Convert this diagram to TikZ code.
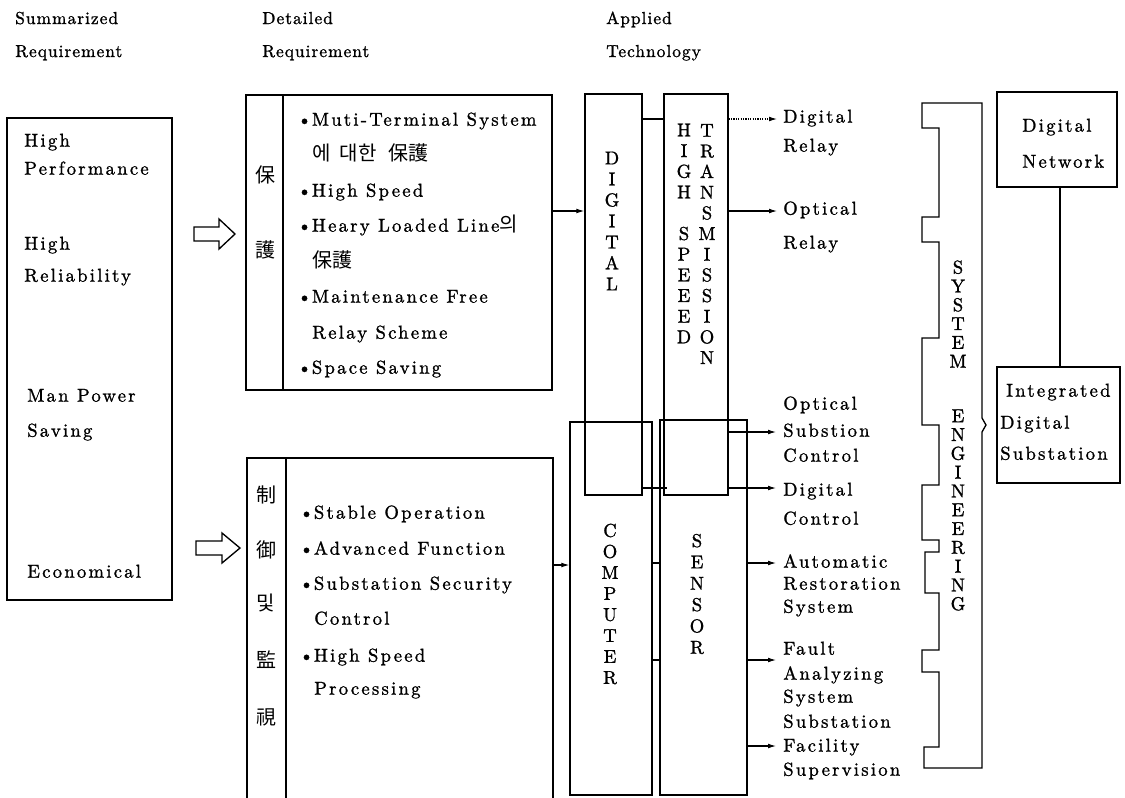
\documentclass[tikz,border=0pt]{standalone}
\usepackage{fontspec}
\setmainfont{lmroman10-regular.otf}[FakeBold=1.2]
\newfontfamily\spaced{lmroman10-regular.otf}[LetterSpace=12,FakeBold=1.2]
\newfontfamily\hdrfont{lmroman10-regular.otf}[LetterSpace=6,FakeBold=1.2]
\newfontfamily\krfont{Noto Sans CJK KR}
\usetikzlibrary{arrows.meta,fit,calc}
\tikzset{
  lw/.style={line width=1pt},
  box/.style={draw, line width=1pt, inner sep=0pt, fit={#1}},
  arr/.style={line width=0.8pt, -{Latex[length=6pt,width=3.6pt]}},
  link/.style={line width=0.8pt},
  txt/.style={anchor=west, inner sep=0pt, text height=10pt, text depth=3pt, font=\spaced\fontsize{14}{16}\selectfont},
  hdr/.style={anchor=west, inner sep=0pt, text height=9pt, text depth=3pt, font=\hdrfont\fontsize{13}{15}\selectfont},
  vtxt/.style={inner sep=0pt, align=center, font=\fontsize{14}{#1}\selectfont},
  kr/.style={inner sep=0pt, font=\krfont\fontsize{15}{17}\selectfont},
}
\newcommand\Lbl[4]{\node[txt] (#1) at (#2,#3) {#4};}
\newcommand\Hdr[4]{\node[hdr] (#1) at (#2,#3) {#4};}
\newcommand\bul{\makebox[11pt][l]{\textbullet}}
\newcommand\kw[1]{{\krfont\fontsize{15}{17}\selectfont #1}}
\begin{document}
\begin{tikzpicture}[x=0.75pt,y=-0.75pt]
\useasboundingbox (0,0) rectangle (1125,797);
\fill[white] (0,0) rectangle (1125,797);

% headers
\Hdr{h1a}{15}{20}{Summarized}
\Hdr{h1b}{15}{53}{Requirement}
\Hdr{h2a}{262}{20}{Detailed}
\Hdr{h2b}{262}{53}{Requirement}
\Hdr{h3a}{606}{20}{Applied}
\Hdr{h3b}{606}{53}{Technology}

% summarized requirement box
\node[box={(7,118)(172,600)}] (sumbox) {};
\Lbl{s1}{24}{142}{High}
\Lbl{s2}{24}{170}{Performance}
\Lbl{s3}{24}{245}{High}
\Lbl{s4}{24}{277}{Reliability}
\Lbl{s5}{27}{397}{Man Power}
\Lbl{s6}{27}{432}{Saving}
\Lbl{s7}{27}{573}{Economical}

% hollow arrows
\draw[lw] (194,227) -- (219,227) -- (219,219) -- (235,234) -- (219,249) -- (219,241) -- (194,241) -- cycle;
\draw[lw] (196,541) -- (222,541) -- (222,533) -- (240,548) -- (222,563) -- (222,555) -- (196,555) -- cycle;

% protection box
\node[box={(246,95)(552,390)}] (protbox) {};
\draw[lw] (283,95) -- (283,390);
\node[kr] (pv1) at (265,175) {保};
\node[kr] (pv2) at (265,250) {護};
\Lbl{p1}{297}{121}{\bul Muti-Terminal System}
\Lbl{p2}{312}{156}{\kw{에\hspace{7pt}대한\hspace{9pt}保護}}
\Lbl{p3}{297}{192}{\bul High Speed}
\Lbl{p4}{297}{227}{\bul Heary Loaded Line\kw{의}}
\Lbl{p5}{312}{263}{\kw{保護}}
\Lbl{p6}{297}{298}{\bul Maintenance Free}
\Lbl{p7}{312}{334}{Relay Scheme}
\Lbl{p8}{297}{369}{\bul Space Saving}

% control box
\node[box={(247,458)(553,802)}] (ctrlbox) {};
\draw[lw] (286,458) -- (286,802);
\node[kr] (cv1) at (266,495) {制};
\node[kr] (cv2) at (266,550) {御};
\node[kr] (cv3) at (266,603) {및};
\node[kr] (cv4) at (266,660) {監};
\node[kr] (cv5) at (266,717) {視};
\Lbl{c1}{299}{514}{\bul Stable Operation}
\Lbl{c2}{299}{550}{\bul Advanced Function}
\Lbl{c3}{299}{585}{\bul Substation Security}
\Lbl{c4}{314}{620}{Control}
\Lbl{c5}{299}{657}{\bul High Speed}
\Lbl{c6}{314}{690}{Processing}

% applied technology
\node[box={(585,94)(642,495)}] (digital) {};
\node[box={(664,94)(728,495)}] (hst) {};
\node[box={(570,422)(652,795)}] (computer) {};
\node[box={(660,420)(747,795)}] (sensor) {};
\node[vtxt=15.75pt] (tdig) at (612,221) {D\\I\\G\\I\\T\\A\\L};
\node[vtxt=15.5pt] (thigh) at (684,161) {H\\I\\G\\H};
\node[vtxt=15.5pt] (tspeed) at (684,285) {S\\P\\E\\E\\E\\D};
\node[vtxt=15.5pt] (ttrans) at (707,244) {T\\R\\A\\N\\S\\M\\I\\S\\S\\I\\O\\N};
\node[vtxt=15.75pt] (tcomp) at (610,604) {C\\O\\M\\P\\U\\T\\E\\R};
\node[vtxt=16pt] (tsens) at (697,594) {S\\E\\N\\S\\O\\R};

% level coordinates
\coordinate (y119) at (0,119);
\coordinate (y211) at (0,211);
\coordinate (y488) at (0,488);
\coordinate (y565) at (0,565);
\coordinate (y563) at (0,563);
\coordinate (y660) at (0,660);

\draw[arr] (protbox.east |- y211) -- (digital.west |- y211);
\draw[arr] (ctrlbox.east |- y565) -- (computer.west |- y565);
\draw[link] (digital.east |- y119) -- (hst.west |- y119);
\draw[link] (digital.east |- y488) -- ([xshift=3pt]hst.west |- y488);
\draw[link] (computer.east |- y563) -- (sensor.west |- y563);
\draw[link] (computer.east |- y660) -- (sensor.west |- y660);

% outputs
\Lbl{o1a}{783}{118}{Digital}
\Lbl{o1b}{783}{147}{Relay}
\Lbl{o2a}{783}{210}{Optical}
\Lbl{o2b}{783}{244}{Relay}
\Lbl{o3a}{783}{405}{Optical}
\Lbl{o3b}{783}{432}{Substion}
\Lbl{o3c}{783}{457}{Control}
\Lbl{o4a}{783}{491}{Digital}
\Lbl{o4b}{783}{520}{Control}
\Lbl{o5a}{783}{563}{Automatic}
\Lbl{o5b}{783}{585}{Restoration}
\Lbl{o5c}{783}{608}{System}
\Lbl{o6a}{783}{650}{Fault}
\Lbl{o6b}{783}{675}{Analyzing}
\Lbl{o6c}{783}{698}{System}
\Lbl{o7a}{783}{723}{Substation}
\Lbl{o7b}{783}{747}{Facility}
\Lbl{o7c}{783}{771}{Supervision}

\coordinate (e1) at (777,119);
\coordinate (e2) at (777,211);
\coordinate (e3) at (776,432);
\coordinate (e4) at (776,488);
\coordinate (e5) at (776,563);
\coordinate (e6) at (776,660);
\coordinate (e7) at (776,746);
\draw[arr, densely dotted] (hst.east |- e1) -- (e1);
\draw[arr] (hst.east |- e2) -- (e2);
\draw[arr] (hst.east |- e3) -- (e3);
\draw[arr] (hst.east |- e4) -- (e4);
\draw[arr] (sensor.east |- e5) -- (e5);
\draw[arr] (sensor.east |- e6) -- (e6);
\draw[arr] (sensor.east |- e7) -- (e7);

% system engineering bracket
\draw[lw] (982,103) -- (922,103) -- (922,128) -- (939,128) -- (939,217) -- (922,217)
  -- (922,242) -- (939,242) -- (939,338) -- (922,338) -- (922,425) -- (939,425)
  -- (939,485) -- (922,485) -- (922,540) -- (939,540) -- (939,552) -- (925,552)
  -- (925,593) -- (939,593) -- (939,650) -- (922,650) -- (922,672) -- (939,672)
  -- (939,747) -- (924,747) -- (924,768) -- (982,768) -- (982,432) -- (986,425)
  -- (982,418) -- cycle;
\node[vtxt=14.1pt] (tsys) at (958,314) {S\\Y\\S\\T\\E\\M};
\node[vtxt=14.1pt] (teng) at (958,510) {E\\N\\G\\I\\N\\E\\E\\R\\I\\N\\G};

% right boxes
\node[box={(997,92)(1117,187)}] (dnet) {};
\node[box={(997,367)(1120,483)}] (ids) {};
\Lbl{n1}{1022}{127}{Digital}
\Lbl{n2}{1022}{163}{Network}
\Lbl{i1}{1006}{392}{Integrated}
\Lbl{i2}{1000}{424}{Digital}
\Lbl{i3}{1000}{455}{Substation}
\coordinate (x1060) at (1060,0);
\draw[link] (dnet.south -| x1060) -- (ids.north -| x1060);
\end{tikzpicture}
\end{document}
